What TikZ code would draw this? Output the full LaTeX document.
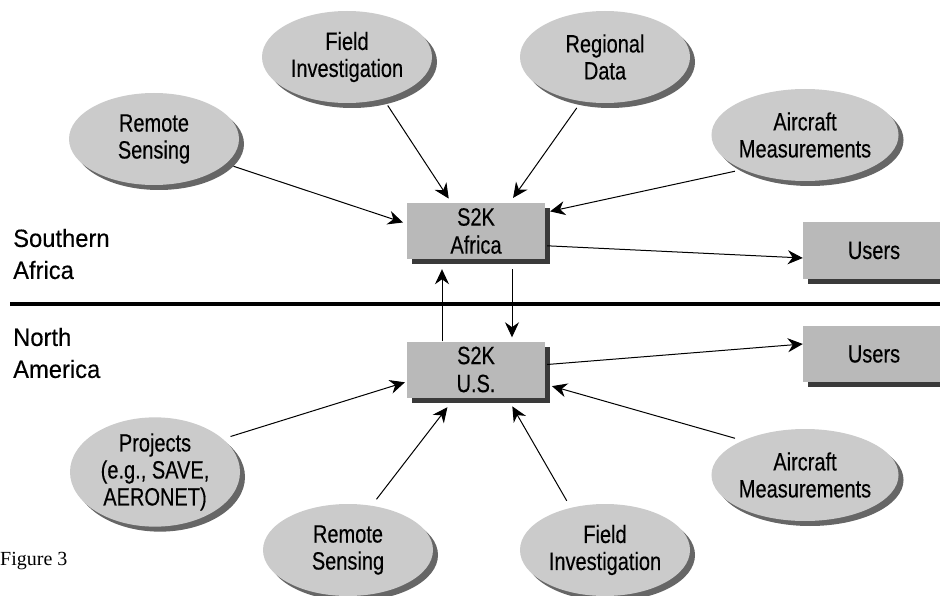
\documentclass[tikz,border=0pt]{standalone}
\usepackage{fontspec}
\setmainfont{Liberation Sans}[FakeStretch=0.80, FakeBold=0.3]
\newfontfamily\regionfont{Liberation Sans}[FakeStretch=0.95, FakeBold=0.3]
\newfontfamily\figfont{Liberation Serif}
\usetikzlibrary{arrows.meta,shapes.geometric,shadows}
\definecolor{ovalgray}{HTML}{CBCBCB}
\definecolor{boxgray}{HTML}{B9B9B9}
\definecolor{shadowgray}{HTML}{3A3A3A}

\begin{document}
\begin{tikzpicture}[x=1pt, y=-1pt,
        source/.style={ellipse, fill=ovalgray, minimum width=170pt, minimum height=92pt,
            inner sep=0pt, align=center, font=\fontsize{25}{27}\selectfont,
            drop shadow={shadow xshift=5pt, shadow yshift=-5pt, fill=black!60, opacity=1}},
        hub/.style={rectangle, fill=boxgray, minimum width=138pt, minimum height=56pt,
            inner sep=0pt, align=center, font=\fontsize{25}{28}\selectfont,
            drop shadow={shadow xshift=5pt, shadow yshift=-5pt, fill=shadowgray, opacity=1}},
        region/.style={anchor=west, align=left, inner sep=0pt, font=\regionfont\fontsize{25}{32}\selectfont},
        feed/.style={-{Stealth[length=15pt, width=14pt]}, line width=1pt, shorten <=8pt}]
        \useasboundingbox (0,0) rectangle (940,596);

        \node[source] (rs1) at (154,139) {Remote\\Sensing};
        \node[source] (fi1) at (347,57) {Field\\Investigation};
        \node[source] (rd1) at (605,57) {Regional\\Data};
        \node[source] (ac1) at (805,135) {Aircraft\\Measurements};

        \node[hub] (afr) at (476,231) {S2K\\Africa};
        \node[hub] (us) at (476,369.5) {S2K\\U.S.};
        \node[hub, minimum width=142pt] (usr1) at (874,250.5) {Users};
        \node[hub, minimum width=142pt] (usr2) at (874,354) {Users};

        \node[source, minimum height=100pt] (pr2) at (155,472) {Projects\\(e.g., SAVE,\\AERONET)};
        \node[source] (rs2) at (348,550) {Remote\\Sensing};
        \node[source] (fi2) at (605,550) {Field\\Investigation};
        \node[source] (ac2) at (805,475) {Aircraft\\Measurements};

        \node[region] (sa) at (13,254) {Southern\\Africa};
        \node[region] (na) at (13,353) {North\\America};
        \node[anchor=base west, inner sep=0pt, font=\figfont\fontsize{20}{24}\selectfont] (fig) at (0,565) {Figure 3};

        \draw[line width=4pt] (10,304) -- (940,304);

        \draw[feed, shorten >=4pt] (rs1.-19) -- (afr.174);
        \draw[feed, shorten >=5pt] (fi1.-49) -- (afr.131);
        \draw[feed, shorten >=6pt] (rd1.242) -- (afr.40);
        \draw[feed, shorten >=5pt] (ac1.209) -- (afr.15);
        \draw[feed, shorten <=2pt] (afr.-12) -- (usr1.186);

        \draw[feed, shorten <=10pt, shorten >=4pt] ([xshift=36pt]afr.south) -- ([xshift=36pt]us.north);
        \draw[feed, shorten <=0pt, shorten >=10pt] ([xshift=-34pt]us.north) -- ([xshift=-34pt]afr.south);

        \draw[feed, shorten <=2pt] (us.4) -- (usr2.172);
        \draw[feed, shorten >=2pt] (pr2.26) -- (us.-170);
        \draw[feed, shorten >=12pt] (rs2.62) -- (us.-127);
        \draw[feed, shorten >=10pt] (fi2.129) -- (us.-42);
        \draw[feed, shorten >=7pt] (ac2.151) -- (us.-12);
    \end{tikzpicture}
\end{document}
